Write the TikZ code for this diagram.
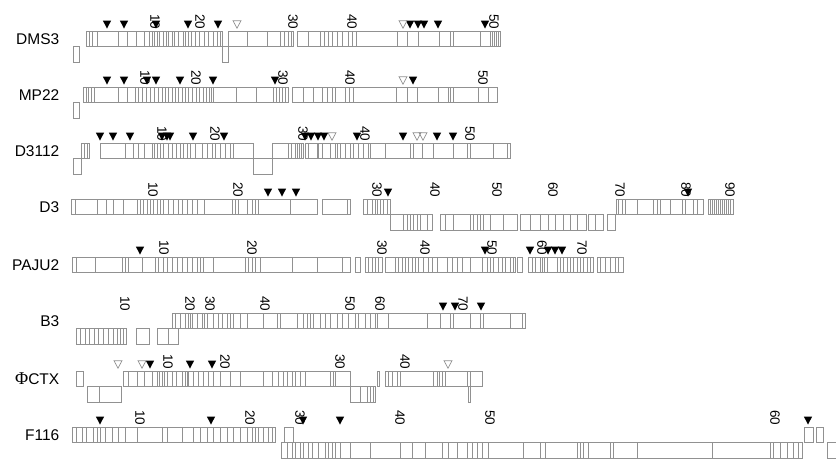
\documentclass[tikz,border=0pt]{standalone}
\usepackage{fontspec}
\setmainfont{Liberation Sans}
\newfontfamily\phifont{Liberation Serif}
\definecolor{boxgray}{RGB}{145,145,145}
\newcommand\gseg[2]{\draw[gb] (#1,\ry) rectangle (#2,\ry+15.5);}
\newcommand\gdown[2]{\draw[gb] (#1,\ry+15.5) rectangle (#2,\ry+31);}
\newcommand\glines[1]{\foreach \xx in {#1} \draw[gb] (\xx,\ry) -- (\xx,\ry+15.5);}
\newcommand\gdlines[1]{\foreach \xx in {#1} \draw[gb] (\xx,\ry+15.5) -- (\xx,\ry+31);}
\newcommand\btri[1]{\foreach \xx in {#1} \fill[black] (\xx-4.2,\ry-10.5) -- (\xx+4.2,\ry-10.5) -- (\xx,\ry-2.5) -- cycle;}
\newcommand\otri[1]{\foreach \xx in {#1} \draw[boxgray, line width=0.7pt] (\xx-4,\ry-10.3) -- (\xx+4,\ry-10.3) -- (\xx,\ry-2.8) -- cycle;}
\newcommand\gnums[1]{\foreach \xx/\lb in {#1} \node[num] at (\xx,\ry-1.5) {\lb};}
\begin{document}
\begin{tikzpicture}[x=1pt,y=-1pt,
  gb/.style={draw=boxgray, line width=0.75pt},
  num/.style={rotate=-90, anchor=east, inner sep=0pt, font=\fontsize{13.5}{14}\selectfont},
  rowlabel/.style={anchor=base east, inner sep=0pt, font=\fontsize{15.5}{17}\selectfont}]
\useasboundingbox (0,0) rectangle (836,459);

% ---------------- DMS3
\def\ry{31}
\node[rowlabel] (lDMS3) at (59.5,\ry+13.5) {DMS3};
\gdown{73}{79}
\gseg{86}{222} \glines{89,92,97,118,127,136,144,149,152,154,157,159,163,166,168,172,174,178,183,185,188,191,195,199,204,208,213,217,220}
\gdown{222}{228}
\gseg{228}{293} \glines{247,267,280,284,288,291}
\gseg{297}{500} \glines{308,320,324,328,332,337,342,348,352,356,397,407,418,439,450,453,480,490,492,494,496,498}
\gnums{155/10,200/20,293/30,352/40,494/50}
\btri{107,124,156,188,218,410,418,424,438,485}
\otri{237,403}

% ---------------- MP22
\def\ry{87}
\node[rowlabel] (lMP22) at (59.5,\ry+13.5) {MP22};
\gdown{73}{79}
\gseg{83}{288} \glines{86,88,91,94,118,127,135,138,142,146,150,154,158,162,165,168,172,175,178,182,185,188,192,196,199,203,206,209,211,213,236,256,273,276,279,282,285}
\gseg{292}{497} \glines{303,313,322,327,332,335,345,349,353,396,407,417,438,448,450,453,478,488}
\gnums{145/10,196/20,283/30,350/40,483/50}
\btri{107,124,147,156,180,213,275,413}
\otri{403}

% ---------------- D3112
\def\ry{143}
\node[rowlabel] (lD3112) at (59.5,\ry+13.5) {D3112};
\gdown{73}{81}
\gseg{81}{89} \glines{84,87}
\gseg{100}{253} \glines{125,133,138,144,152,154,157,160,163,168,172,176,180,183,187,190,195,202,207,212,215,220,225,230,233}
\gdown{253}{272}
\gseg{272}{303} \glines{288,291,295,297,299,301}
\gseg{305}{510} \glines{308,317,318,322,330,335,337,340,345,350,353,358,363,368,370,385,410,413,422,433,453,467,470,493,507}
\gnums{162/10,215/20,303/30,365/40,470/50}
\btri{100,113,130,162,167,170,193,224,305,311,318,324,357,403,437,453}
\otri{332,417,423}

% ---------------- D3
\def\ry{199}
\node[rowlabel] (lD3) at (59.5,\ry+13.5) {D3};
\gseg{71}{317} \glines{75,97,106,113,123,137,140,143,147,150,153,157,160,163,168,173,178,182,187,192,197,204,232,235,238,247,252,255,258,290}
\gseg{322}{350} \glines{347}
\gseg{363}{390} \glines{367,372,375,377,380,383,387}
\gdown{390}{432} \gdlines{403,407,410,413,417,420,427}
\gdown{440}{517} \gdlines{445,453,470,473,477,480,483,490,503}
\gdown{520}{586} \gdlines{530,540,548,555,563,570,577}
\gdown{588}{603} \gdlines{595}
\gdown{607}{615}
\gseg{616}{703} \glines{618,622,625,637,653,657,660,670,682,685,693,697}
\gseg{708}{733} \glines{710,712,714,716,718,720,722,724,726,728,730}
\gnums{153/10,238/20,377/30,435/40,497/50,553/60,620/70,686/80,730/90}
\btri{268,282,296,388,688}

% ---------------- PAJU2
\def\ry{257}
\node[rowlabel] (lPAJU2) at (59.5,\ry+13.5) {PAJU2};
\gseg{72}{350} \glines{76,95,122,125,128,142,155,158,163,167,172,177,182,187,192,197,200,203,213,245,248,252,255,260,292,317,342}
\gseg{355}{360}
\gseg{365}{382} \glines{368,372,375,378}
\gseg{385}{515} \glines{395,398,402,405,408,412,415,418,423,428,432,437,447,452,457,462,470,482,487,490,493,498,502,505,510,513}
\gseg{517}{522}
\gseg{528}{593} \glines{532,535,540,542,544,547,557,560,563,567,570,573,577,580,583,587,590}
\gseg{597}{623} \glines{600,605,610,615,618}
\gnums{164/10,252/20,382/30,425/40,492/50,542/60,582/70}
\btri{140,485,530,548,555,562}

% ---------------- B3
\def\ry{313}
\node[rowlabel] (lB3) at (59.5,\ry+13.5) {B3};
\gdown{76}{126} \gdlines{80,85,89,94,98,103,108,113,117,120,123}
\gdown{136}{149}
\gdown{157}{178} \gdlines{168}
\gseg{172}{525} \glines{175,180,185,188,190,192,197,202,204,207,213,218,222,227,230,233,240,247,263,277,280,297,303,307,310,313,320,325,330,337,342,348,355,358,365,370,375,377,388,427,440,450,453,470,480,483,510,522}
\gnums{125/10,190/20,210/30,265/40,350/50,380/60,463/70}
\btri{443,455,481}

% ---------------- PhiCTX
\def\ry{371}
\node[rowlabel] (lPHI) at (59.5,\ry+13.5) {{\phifont\fontsize{18}{18}\selectfont Φ}CTX};
\gseg{76}{83}
\gdown{87}{121} \gdlines{99}
\gseg{123}{350} \glines{128,137,144,152,157,159,162,164,167,172,176,182,185,187,188,193,198,203,208,213,220,230,240,263,272,278,283,287,292,295,300,305,330,333,335}
\gdown{350}{375} \gdlines{360,367,370,373}
\gseg{377}{379}
\gseg{385}{482} \glines{388,392,397,400,433,437,439,442,445,467,470}
\gdown{468}{470}
\gnums{168/10,225/20,340/30,405/40}
\btri{150,190,212}
\otri{118,142,448}

% ---------------- F116
\def\ry{427}
\node[rowlabel] (lF116) at (59.5,\ry+13.5) {F116};
\gseg{72}{275} \glines{76,82,86,93,97,100,105,112,118,125,137,162,167,182,193,200,207,213,220,227,233,240,247,252,255,258,263,268,272}
\gseg{284}{293}
\gdown{281}{802} \gdlines{287,292,295,300,303,308,312,318,325,328,332,335,340,350,370,400,412,425,442,448,457,467,472,477,482,488,523,540,545,577,580,583,588,610,613,637,712,770,773,780,787,793,798}
\gseg{804}{813}
\gseg{816}{823}
\gdown{827}{840}
\gnums{140/10,250/20,300/30,400/40,490/50,775/60}
\btri{100,211,303,340,808}
\end{tikzpicture}
\end{document}
